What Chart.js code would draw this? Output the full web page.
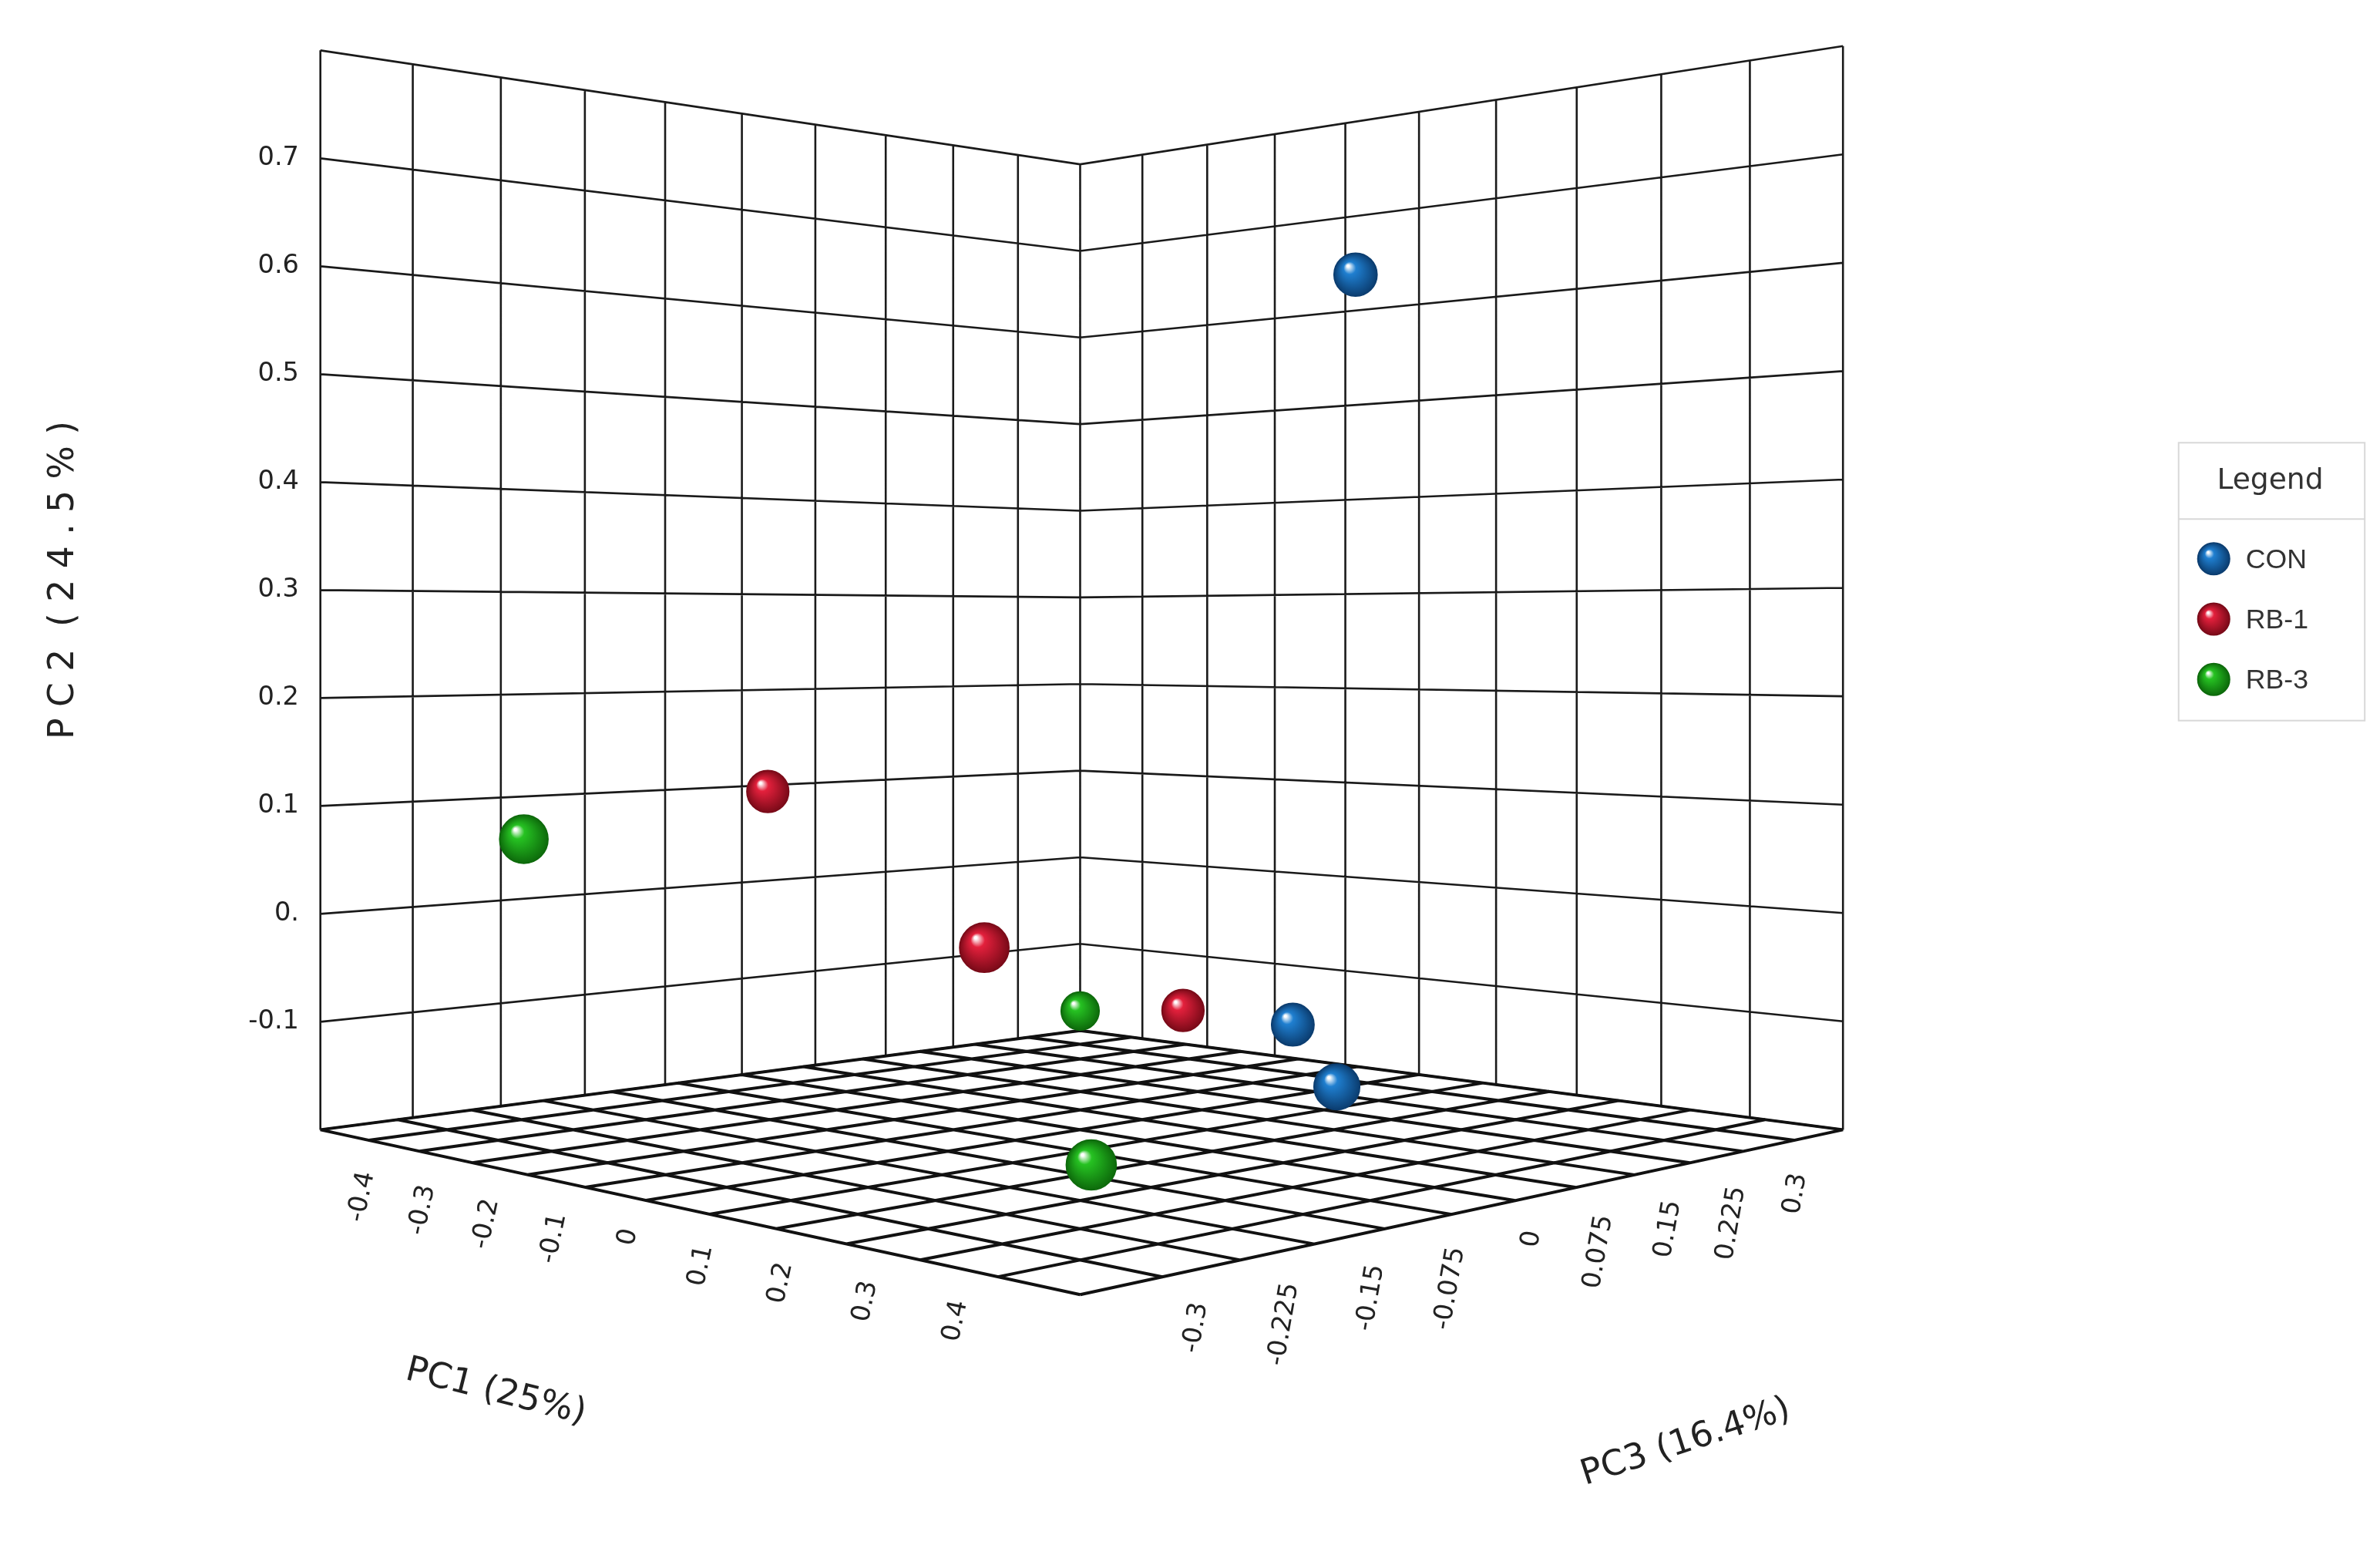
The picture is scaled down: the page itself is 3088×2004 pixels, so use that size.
<!DOCTYPE html>
<html><head><meta charset="utf-8">
<script src="https://cdn.jsdelivr.net/npm/chart.js@4"></script>
<style>html,body{margin:0;padding:0;background:#fff}#wrap{width:3088px;height:2004px}</style>
</head><body><div id="wrap"><canvas id="c"></canvas></div>
<script>
// ---- data (PC1, PC2, PC3) ----
const groups = ["CON", "RB-1", "RB-3"];
const conPC1 = [0.10, 0.03, 0.20];
const conPC2 = [0.61, -0.13, -0.16];
const conPC3 = [0.22, 0.21, 0.11];
const rb1PC1 = [-0.37, 0.12, -0.07];
const rb1PC2 = [0.10, -0.01, -0.12];
const rb1PC3 = [-0.05, -0.17, 0.17];
const rb3PC1 = [-0.20, -0.37, 0.21];
const rb3PC2 = [0.08, -0.16, -0.19];
const rb3PC3 = [-0.36, 0.285, -0.14];
const pc2Ticks = ["0.7", "0.6", "0.5", "0.4", "0.3", "0.2", "0.1", "0.", "-0.1"];
const pc2TickVals = [0.7, 0.6, 0.5, 0.4, 0.3, 0.2, 0.1, 0, -0.1];
const pc1Ticks = ["-0.4", "-0.3", "-0.2", "-0.1", "0", "0.1", "0.2", "0.3", "0.4"];
const pc1TickVals = [-0.4, -0.3, -0.2, -0.1, 0, 0.1, 0.2, 0.3, 0.4];
const pc3Ticks = ["-0.3", "-0.225", "-0.15", "-0.075", "0", "0.075", "0.15", "0.225", "0.3"];
const pc3TickVals = [-0.3, -0.225, -0.15, -0.075, 0, 0.075, 0.15, 0.225, 0.3];
const colors = ["#1f7fd0", "#e3203c", "#26c222"];
const darkColors = ["#0b3d70", "#7a0a18", "#0d6a0b"];
const PC1R = [-0.47, 0.53], PC2R = [-0.2, 0.8], PC3R = [-0.39, 0.36];

// ---- projection (image units 1560 x 1012) ----
const S = 3088 / 1560;
function solveH(src, dst) {
  const A = [], B = [];
  for (let i = 0; i < 4; i++) {
    const [a, b] = src[i], [x, y] = dst[i];
    A.push([a, b, 1, 0, 0, 0, -a * x, -b * x]); B.push(x);
    A.push([0, 0, 0, a, b, 1, -a * y, -b * y]); B.push(y);
  }
  const n = 8;
  for (let i = 0; i < n; i++) {
    let p = i; for (let r = i + 1; r < n; r++) if (Math.abs(A[r][i]) > Math.abs(A[p][i])) p = r;
    [A[i], A[p]] = [A[p], A[i]]; [B[i], B[p]] = [B[p], B[i]];
    for (let r = 0; r < n; r++) if (r !== i) {
      const f = A[r][i] / A[i][i];
      for (let c = i; c < n; c++) A[r][c] -= f * A[i][c];
      B[r] -= f * B[i];
    }
  }
  return B.map((v, i) => v / A[i][i]);
}
const H = solveH([[0,0],[1,0],[1,1],[0,1]], [[210,740],[708,848],[1208,740],[708,675]]);
function wOf(a, b) { return H[6] * a + H[7] * b + 1; }
const K = 707 * wOf(0, 0);
function projN(a, b, z) {
  const w = wOf(a, b);
  return { x: (H[0] * a + H[1] * b + H[2]) / w, y: (H[3] * a + H[4] * b + H[5]) / w - z * K / w, h: K / w };
}
function norm(v, r) { return (v - r[0]) / (r[1] - r[0]); }
function proj(p1, p2, p3) { return projN(norm(p1, PC1R), norm(p3, PC3R), norm(p2, PC2R)); }
function pts(A, B, C) { return A.map((v, i) => { const p = proj(v, B[i], C[i]); return { x: p.x, y: p.y, h: p.h }; }); }

function ds(label, i, A, B, C) {
  return {
    label, data: pts(A, B, C),
    pointRadius: c => (c.raw ? 15 * S * c.raw.h / 707 : 20),
    pointHoverRadius: c => (c.raw ? 15 * S * c.raw.h / 707 : 20),
    borderColor: darkColors[i], borderWidth: 1.5,
    backgroundColor: c => {
      const ch = c.chart; if (!ch.scales || !ch.scales.x || !c.raw) return colors[i];
      const x = ch.scales.x.getPixelForValue(c.raw.x), y = ch.scales.y.getPixelForValue(c.raw.y);
      const r = 15 * S * c.raw.h / 707;
      if (!isFinite(x) || !isFinite(y) || !isFinite(r)) return colors[i];
      const g = ch.ctx.createRadialGradient(x - r * 0.35, y - r * 0.4, r * 0.05, x, y, r);
      g.addColorStop(0, "#ffffff"); g.addColorStop(0.25, colors[i]); g.addColorStop(1, darkColors[i]);
      return g;
    }
  };
}

const drawPlugin = {
  id: 'pca3d',
  beforeDatasetsDraw(chart) {
    const ctx = chart.ctx, xs = chart.scales.x, ys = chart.scales.y;
    const P = p => [xs.getPixelForValue(p.x), ys.getPixelForValue(p.y)];
    const line = (p, q) => { const a = P(p), b = P(q); ctx.moveTo(a[0], a[1]); ctx.lineTo(b[0], b[1]); };
    ctx.save(); ctx.strokeStyle = "#1a1a1a"; ctx.lineWidth = 2.6; ctx.beginPath();
    const N = 10;
    for (let i = 0; i <= N; i++) {
      const t = i / N;
      line(projN(0, t, 0), projN(0, t, 1));
      line(projN(0, 0, t), projN(0, 1, t));
      line(projN(t, 1, 0), projN(t, 1, 1));
      line(projN(0, 1, t), projN(1, 1, t));
    }
    ctx.stroke();
    ctx.lineWidth = 4; ctx.strokeStyle = "#111"; ctx.beginPath();
    const F = 12;
    for (let i = 0; i <= F; i++) {
      const t = i / F;
      line(projN(t, 0, 0), projN(t, 1, 0));
      line(projN(0, t, 0), projN(1, t, 0));
    }
    ctx.stroke(); ctx.restore();
  },
  afterDraw(chart) {
    const ctx = chart.ctx, xs = chart.scales.x, ys = chart.scales.y;
    const P = (x, y) => [xs.getPixelForValue(x), ys.getPixelForValue(y)];
    ctx.save(); ctx.fillStyle = "#222";
    ctx.font = `${17 * S}px "DejaVu Sans"`; ctx.textAlign = "right"; ctx.textBaseline = "middle";
    pc2TickVals.forEach((v, i) => { const p = projN(0, 0, norm(v, PC2R)); const q = P(p.x - 14, p.y); ctx.fillText(pc2Ticks[i], q[0], q[1]); });
    pc1TickVals.forEach((v, i) => {
      const p = projN(norm(v, PC1R), 0, 0); const q = P(p.x + 4, p.y + 22);
      ctx.save(); ctx.translate(q[0], q[1]); ctx.rotate(-78 * Math.PI / 180);
      ctx.textAlign = "right"; ctx.fillText(pc1Ticks[i], 0, 0); ctx.restore();
    });
    pc3TickVals.forEach((v, i) => {
      const p = projN(1, norm(v, PC3R), 0); const q = P(p.x + 2, p.y + 22);
      ctx.save(); ctx.translate(q[0], q[1]); ctx.rotate(-80 * Math.PI / 180);
      ctx.textAlign = "right"; ctx.fillText(pc3Ticks[i], 0, 0); ctx.restore();
    });
    ctx.font = `${23 * S}px "DejaVu Sans"`; ctx.textAlign = "center";
    let q = P(325, 912); ctx.save(); ctx.translate(q[0], q[1]); ctx.rotate(14 * Math.PI / 180); ctx.fillText("PC1 (25%)", 0, 0); ctx.restore();
    q = P(1105, 945); ctx.save(); ctx.translate(q[0], q[1]); ctx.rotate(-18 * Math.PI / 180); ctx.fillText("PC3 (16.4%)", 0, 0); ctx.restore();
    q = P(42, 380); ctx.save(); ctx.translate(q[0], q[1]); ctx.rotate(-Math.PI / 2); ctx.fillText("P C 2  ( 2 4 . 5 % )", 0, 0); ctx.restore();
    const a = P(1428, 290), b = P(1550, 472), m = P(1428, 340), m2 = P(1550, 340);
    ctx.strokeStyle = "#d8d8d8"; ctx.lineWidth = 2; ctx.strokeRect(a[0], a[1], b[0] - a[0], b[1] - a[1]);
    ctx.beginPath(); ctx.moveTo(m[0], m[1]); ctx.lineTo(m2[0], m2[1]); ctx.stroke();
    ctx.font = `${19 * S}px "DejaVu Sans"`; ctx.fillStyle = "#333"; q = P(1488, 315); ctx.fillText("Legend", q[0], q[1]);
    ctx.font = `${18 * S}px "Liberation Sans"`; ctx.textAlign = "left";
    groups.forEach((g, i) => {
      const c = P(1451, 366 + 39.5 * i), r = 10.5 * S;
      const gr = ctx.createRadialGradient(c[0] - r * 0.35, c[1] - r * 0.4, r * 0.05, c[0], c[1], r);
      gr.addColorStop(0, "#fff"); gr.addColorStop(0.25, colors[i]); gr.addColorStop(1, darkColors[i]);
      ctx.beginPath(); ctx.arc(c[0], c[1], r, 0, Math.PI * 2); ctx.fillStyle = gr; ctx.fill();
      ctx.strokeStyle = darkColors[i]; ctx.lineWidth = 1.5; ctx.stroke();
      ctx.fillStyle = "#333"; const t = P(1472, 367 + 39.5 * i); ctx.fillText(g, t[0], t[1]);
    });
    ctx.restore();
  }
};

new Chart(document.getElementById('c'), {
  type: 'scatter',
  data: { datasets: [
    ds(groups[0], 0, conPC1, conPC2, conPC3),
    ds(groups[1], 1, rb1PC1, rb1PC2, rb1PC3),
    ds(groups[2], 2, rb3PC1, rb3PC2, rb3PC3)
  ] },
  options: {
    responsive: true, maintainAspectRatio: false, animation: false, devicePixelRatio: 1,
    layout: { padding: 0, autoPadding: false },
    plugins: { legend: { display: false }, tooltip: { enabled: false } },
    scales: {
      x: { type: 'linear', min: 0, max: 1560, display: false },
      y: { type: 'linear', min: 0, max: 1012, reverse: true, display: false }
    }
  },
  plugins: [drawPlugin]
});
</script></body></html>
